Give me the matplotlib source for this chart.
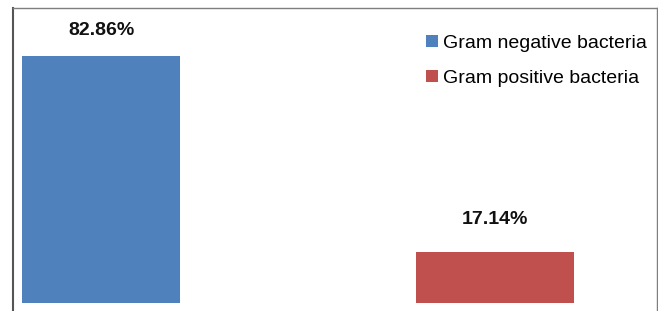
import matplotlib
matplotlib.use('Agg')
import matplotlib.pyplot as plt
from matplotlib.patches import Patch
from matplotlib.lines import Line2D

# data
categories = ['Gram negative bacteria', 'Gram positive bacteria']
values = [82.86, 17.14]
labels = ['82.86%', '17.14%']
colors = ['#4F81BD', '#C0504D']

plt.rcParams['font.family'] = ['Liberation Sans', 'DejaVu Sans']

W, H = 658, 311
fig = plt.figure(figsize=(W / 100, H / 100), dpi=100)

# axes placed in pixel terms
left, right, top, bottom = 12, 656, 8, 303
ax = fig.add_axes([left / W, (H - bottom) / H, (right - left) / W, (bottom - top) / H])
x = [0, 1]
bars = ax.bar(x, values, width=0.401, color=colors)
ax.set_xlim(-0.226, 1.409)
ax.set_ylim(0, 99)
ax.axis('off')

# value labels above bars
offsets = [18.5, 23.5]
for b, lab, off in zip(bars, labels, offsets):
    ax.annotate(lab, (b.get_x() + b.get_width() / 2, b.get_height()),
                xytext=(0, off), textcoords='offset points',
                ha='center', va='center', fontsize=14, fontweight='bold', color='#111111')

# legend
handles = [Patch(facecolor=c, edgecolor='none') for c in colors]
fig.legend(handles, categories, loc='upper left', bbox_to_anchor=(426 / W, 1 - 35 / H),
           frameon=False, fontsize=14, handlelength=0.6, handleheight=0.6,
           handletextpad=0.25, labelspacing=0.9, borderpad=0, borderaxespad=0)

# outer frame (bottom edge cut off)
fc = '#7f7f7f'
fig.add_artist(Line2D([12.5 / W, 12.5 / W], [0, 1 - 8 / H], color='#555555', lw=1.5))
fig.add_artist(Line2D([12.5 / W, 656.5 / W], [1 - 8 / H, 1 - 8 / H], color=fc, lw=1))
fig.add_artist(Line2D([656.5 / W, 656.5 / W], [0, 1 - 8 / H], color=fc, lw=1))

fig.savefig('out.png', dpi=100)
